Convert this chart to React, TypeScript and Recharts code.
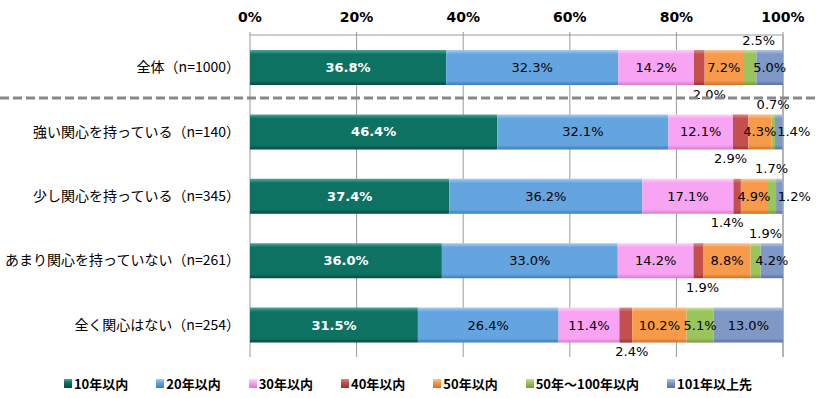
import React from "react";
import {
  BarChart,
  Bar,
  XAxis,
  YAxis,
  CartesianGrid,
  Legend,
  LabelList,
} from "recharts";

// categories (rows) and series values in %
const categories = [
  "全体（n=1000）",
  "強い関心を持っている（n=140）",
  "少し関心を持っている（n=345）",
  "あまり関心を持っていない（n=261）",
  "全く関心はない（n=254）",
];
const within10 = [36.8, 46.4, 37.4, 36.0, 31.5];
const within20 = [32.3, 32.1, 36.2, 33.0, 26.4];
const within30 = [14.2, 12.1, 17.1, 14.2, 11.4];
const within40 = [2.0, 2.9, 1.4, 1.9, 2.4];
const within50 = [7.2, 4.3, 4.9, 8.8, 10.2];
const within100 = [2.5, 0.7, 1.7, 1.9, 5.1];
const over101 = [5.0, 1.4, 1.2, 4.2, 13.0];

const xTicks = [0, 20, 40, 60, 80, 100];

const series = [
  { key: "10年以内", values: within10, color: "#0E7262", light: "#4FA898", dark: "#06493E" },
  { key: "20年以内", values: within20, color: "#64A5E0", light: "#A5CCF0", dark: "#3E7DB8" },
  { key: "30年以内", values: within30, color: "#F9A3F3", light: "#FDD2FA", dark: "#D47CCD" },
  { key: "40年以内", values: within40, color: "#C4504E", light: "#E08987", dark: "#963532" },
  { key: "50年以内", values: within50, color: "#F79A4A", light: "#FBC595", dark: "#CC7128" },
  { key: "50年～100年以内", values: within100, color: "#9BC45C", light: "#C6E19B", dark: "#75993A" },
  { key: "101年以上先", values: over101, color: "#7F98C6", light: "#B6C6E2", dark: "#5A729E" },
];

// horizontal nudges (px) for the small outside labels, per row, like the original
const nudge40 = [10, -10, -10, 4, 6];
const nudge100 = [9, 0, 0, 10, 0];

const data = categories.map((name, i) => {
  const row: any = { name };
  series.forEach((s) => {
    row[s.key] = s.values[i];
  });
  return row;
});

const labelFont = "'DejaVu Sans', Verdana, sans-serif";
const jpFont = "'Noto Sans CJK JP', 'Noto Sans', sans-serif";

// small segments get their label moved above / below the bar
const makeLabel = (key: string, white: boolean) => (props: any) => {
  const { x, y, width, height, value, index } = props;
  const v = Number(value);
  let cx = Number(x) + Number(width) / 2;
  let cy = Number(y) + Number(height) / 2;
  if (key === "40年以内") {
    cy = Number(y) + Number(height) + 9;
    cx += nudge40[index] || 0;
  }
  if (key === "50年～100年以内" && v < 3) {
    cy = Number(y) - 10;
    cx += nudge100[index] || 0;
  }
  if (key === "101年以上先" && v < 2) cx += 15;
  return (
    <text
      x={cx}
      y={cy}
      textAnchor="middle"
      dominantBaseline="central"
      fill={white ? "#ffffff" : "#000000"}
      fontFamily={labelFont}
      fontSize={13}
      fontWeight={white ? 700 : 400}
    >
      {v.toFixed(1)}%
    </text>
  );
};

const renderLegend = () => (
  <div
    style={{
      display: "flex",
      justifyContent: "center",
      alignItems: "center",
      gap: 28,
      height: 30,
      fontFamily: jpFont,
      fontSize: 13,
      fontWeight: 700,
      color: "#000",
    }}
  >
    {series.map((s) => (
      <div key={s.key} style={{ display: "flex", alignItems: "center", gap: 2 }}>
        <span
          style={{
            display: "inline-block",
            width: 8,
            height: 9,
            background: `linear-gradient(${s.light}, ${s.color} 40%, ${s.dark})`,
          }}
        />
        <span>{s.key}</span>
      </div>
    ))}
  </div>
);

export default function App() {
  return (
    <div style={{ position: "absolute", left: 0, top: 0, width: 816, height: 398, background: "#fff" }}>
      <BarChart
        width={816}
        height={398}
        data={data}
        layout="vertical"
        margin={{ top: 5, right: 33, left: 0, bottom: 11 }}
      >
        <defs>
          {series.map((s, i) => (
            <linearGradient key={s.key} id={`bev${i}`} x1="0" y1="0" x2="0" y2="1">
              <stop offset="0%" stopColor={s.light} />
              <stop offset="12%" stopColor={s.color} />
              <stop offset="88%" stopColor={s.color} />
              <stop offset="100%" stopColor={s.dark} />
            </linearGradient>
          ))}
        </defs>
        <CartesianGrid horizontal={false} stroke="#9a9a9a" />
        <XAxis
          type="number"
          orientation="top"
          domain={[0, 100]}
          ticks={xTicks}
          tickFormatter={(v) => `${v}%`}
          axisLine={{ stroke: "#9a9a9a" }}
          tickLine={{ stroke: "#9a9a9a" }}
          tickSize={3}
          tickMargin={10}
          height={30}
          tick={{ fill: "#000", fontFamily: labelFont, fontSize: 14, fontWeight: 700 }}
        />
        <YAxis
          type="category"
          dataKey="name"
          width={250}
          axisLine={false}
          tickLine={false}
          tickMargin={4}
          tick={{ fill: "#000", fontFamily: jpFont, fontSize: 14 }}
        />
        <Legend
          verticalAlign="bottom"
          height={30}
          content={renderLegend}
          wrapperStyle={{ top: 368, left: 0, width: 816 }}
        />
        {series.map((s, i) => (
          <Bar
            key={s.key}
            dataKey={s.key}
            stackId="a"
            fill={`url(#bev${i})`}
            barSize={35}
            isAnimationActive={false}
          >
            <LabelList dataKey={s.key} content={makeLabel(s.key, i === 0)} />
          </Bar>
        ))}
      </BarChart>
      <svg
        width={816}
        height={6}
        style={{ position: "absolute", left: 0, top: 95, pointerEvents: "none" }}
      >
        <line x1={0} y1={3} x2={816} y2={3} stroke="#888888" strokeWidth={3} strokeDasharray="9 4" />
      </svg>
    </div>
  );
}
